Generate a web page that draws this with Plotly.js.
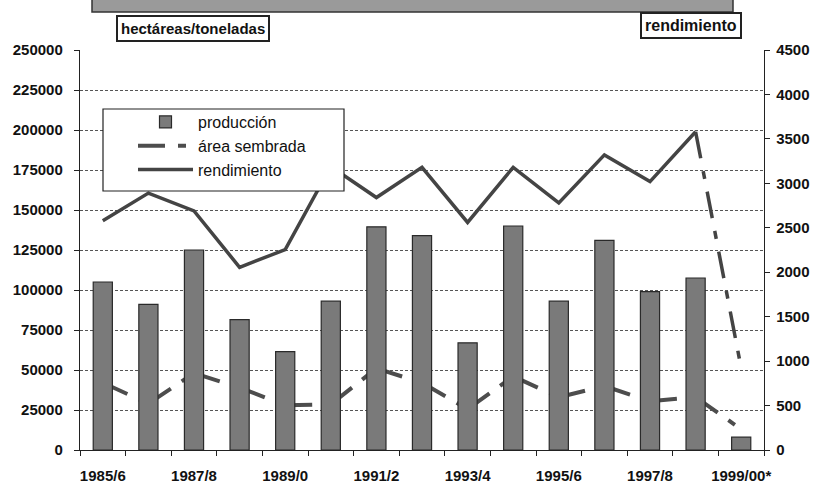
<!DOCTYPE html>
<html>
<head>
<meta charset="utf-8">
<script src="https://cdn.plot.ly/plotly-3.0.1.min.js"></script>
<style>
  html, body { margin: 0; padding: 0; background: #fff; }
  #chart { width: 815px; height: 483px; }
</style>
</head>
<body>
<div id="chart"></div>
<script>
// ---- data ----
const categories = ['1985/6','1986/7','1987/8','1988/9','1989/0','1990/1','1991/2','1992/3','1993/4','1994/5','1995/6','1996/7','1997/8','1998/9','1999/00*'];
const produccion = [105000, 91000, 125000, 81500, 61500, 93000, 139500, 134000, 67000, 140000, 93000, 131000, 99000, 107500, 8000];
const areaSembrada = [42000, 29000, 48000, 39000, 28000, 28500, 51000, 42000, 25500, 46000, 33000, 40000, 30500, 33000, 13000];
const rendimiento = [2580, 2890, 2690, 2055, 2255, 3190, 2840, 3180, 2560, 3180, 2780, 3320, 3020, 3580, 920];
const leftTicks = [0, 25000, 50000, 75000, 100000, 125000, 150000, 175000, 200000, 225000, 250000];
const rightTicks = [0, 500, 1000, 1500, 2000, 2500, 3000, 3500, 4000, 4500];
const tickLabels = categories.map((c, i) => (i % 2 === 0 ? c : ''));

const FONT = 'Liberation Sans, Arial, sans-serif';
const DASH = '27px,13px,8px,13px';

const traces = [];

// área sembrada: one segment per pair of seasons (dash pattern restarts each segment)
for (let i = 0; i < categories.length - 1; i++) {
  traces.push({
    type: 'scatter', mode: 'lines',
    x: [categories[i], categories[i + 1]],
    y: [areaSembrada[i], areaSembrada[i + 1]],
    xaxis: 'x', yaxis: 'y',
    name: 'área sembrada', legendgroup: 'area', legendrank: 2,
    showlegend: i === 0,
    line: { color: '#4d4d4d', width: 4, dash: DASH },
    hoverinfo: 'skip'
  });
}

// producción bars
traces.push({
  type: 'bar', x: categories, y: produccion,
  xaxis: 'x', yaxis: 'y2',
  name: 'producción', legendrank: 1,
  marker: { color: '#7a7a7a', line: { color: '#2a2a2a', width: 1.2 } }
});

// rendimiento (solid part, up to 1998/9)
const nSolid = categories.length - 1;
traces.push({
  type: 'scatter', mode: 'lines',
  x: categories.slice(0, nSolid), y: rendimiento.slice(0, nSolid),
  xaxis: 'x', yaxis: 'y3',
  name: 'rendimiento', legendrank: 3, legendgroup: 'rend',
  line: { color: '#444', width: 3.5 }
});
// rendimiento last (dashed) segment
traces.push({
  type: 'scatter', mode: 'lines',
  x: categories.slice(nSolid - 1), y: rendimiento.slice(nSolid - 1),
  xaxis: 'x', yaxis: 'y3',
  name: 'rendimiento', legendgroup: 'rend', showlegend: false,
  line: { color: '#444', width: 3.5, dash: DASH }
});

const X0 = 80, X1 = 764, Y0 = 50, Y1 = 450;
const px = v => (v - X0) / (X1 - X0);
const py = v => (Y1 - v) / (Y1 - Y0);

const layout = {
  width: 815, height: 483,
  margin: { l: X0, r: 815 - X1, t: Y0, b: 483 - Y1, pad: 0 },
  paper_bgcolor: '#fff', plot_bgcolor: '#fff',
  font: { family: FONT, color: '#111' },
  bargap: 0.58,
  showlegend: true,
  legend: {
    x: px(133), y: py(105), xanchor: 'left', yanchor: 'top',
    bgcolor: 'rgba(0,0,0,0)', borderwidth: 0,
    itemwidth: 55, tracegroupgap: 0,
    font: { family: FONT, size: 16, color: '#111' }
  },
  xaxis: {
    type: 'category', categoryorder: 'array', categoryarray: categories,
    tickmode: 'array', tickvals: categories, ticktext: tickLabels,
    tickangle: 0,
    tickson: 'boundaries', ticks: 'outside', ticklen: 5, tickcolor: '#222',
    showline: true, linecolor: '#222', linewidth: 1.2,
    showgrid: false, zeroline: false,
    ticklabelstandoff: 12,
    tickfont: { family: FONT, size: 15, weight: 'bold', color: '#111' }
  },
  yaxis: {
    range: [0, 250000], tickmode: 'array', tickvals: leftTicks, tickformat: 'd',
    showgrid: false, zeroline: false,
    showline: true, linecolor: '#222', linewidth: 1.2,
    ticks: 'outside', ticklen: 5, tickcolor: '#222',
    ticklabelstandoff: 8,
    tickfont: { family: FONT, size: 15, weight: 'bold', color: '#111' }
  },
  yaxis2: {
    overlaying: 'y', range: [0, 250000],
    tickmode: 'array', tickvals: leftTicks.slice(1, -1),
    showticklabels: false, ticks: '', showline: false, zeroline: false,
    showgrid: true, gridcolor: '#555', gridwidth: 1, griddash: '3px,2px'
  },
  yaxis3: {
    overlaying: 'y', side: 'right', range: [0, 4500],
    tickmode: 'array', tickvals: rightTicks, tickformat: 'd',
    showgrid: false, zeroline: false,
    showline: true, linecolor: '#222', linewidth: 1.2,
    ticks: 'outside', ticklen: 5, tickcolor: '#222',
    ticklabelstandoff: 3,
    tickfont: { family: FONT, size: 15, weight: 'bold', color: '#111' }
  },
  shapes: [
    { type: 'rect', xref: 'paper', yref: 'paper', layer: 'above',
      x0: px(92), x1: px(733), y0: py(12), y1: py(-5),
      fillcolor: '#9a9a9a', line: { color: '#333', width: 1.5 } },
    { type: 'rect', xref: 'paper', yref: 'paper', layer: 'above',
      x0: px(103), x1: px(344), y0: py(191), y1: py(109),
      fillcolor: '#fff', line: { color: '#222', width: 1.2 } }
  ],
  annotations: [
    { text: 'hectáreas/toneladas', xref: 'paper', yref: 'paper',
      x: px(192.5), y: py(28.5), xanchor: 'center', yanchor: 'middle', showarrow: false,
      font: { family: FONT, size: 15, weight: 'bold', color: '#111' },
      bgcolor: '#fff', bordercolor: '#222', borderwidth: 2, borderpad: 3 },
    { text: 'rendimiento', xref: 'paper', yref: 'paper',
      x: px(691), y: py(25.5), xanchor: 'center', yanchor: 'middle', showarrow: false,
      font: { family: FONT, size: 16, weight: 'bold', color: '#111' },
      bgcolor: '#fff', bordercolor: '#222', borderwidth: 2, borderpad: 3 }
  ]
};

Plotly.newPlot('chart', traces, layout, { staticPlot: true, displayModeBar: false });
</script>
</body>
</html>
